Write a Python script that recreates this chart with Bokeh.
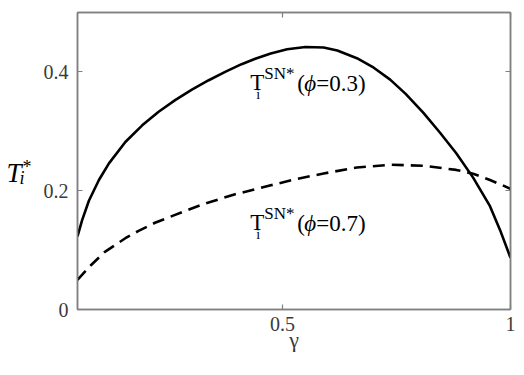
from bokeh.plotting import figure
from bokeh.models import Range1d, FixedTicker, LinearAxis, Label
from bokeh.layouts import row
from bokeh.core.properties import value
from bokeh.embed import file_html
from bokeh.resources import INLINE

# data
gamma_03 = [0.05, 0.060, 0.075, 0.097, 0.119, 0.155, 0.192, 0.228, 0.265, 0.301, 0.338, 0.374, 0.410,
            0.440, 0.474, 0.510, 0.550, 0.590, 0.620, 0.663, 0.700, 0.736, 0.770, 0.809, 0.845,
            0.881, 0.918, 0.955, 0.977, 1.0]
t_03 = [0.123, 0.150, 0.183, 0.218, 0.246, 0.282, 0.310, 0.333, 0.353, 0.370, 0.386, 0.400, 0.413,
        0.422, 0.431, 0.438, 0.442, 0.441, 0.436, 0.423, 0.407, 0.387, 0.363, 0.331, 0.298,
        0.263, 0.222, 0.174, 0.134, 0.087]

gamma_07 = [0.05, 0.080, 0.110, 0.155, 0.183, 0.220, 0.260, 0.328, 0.396, 0.474, 0.532, 0.590,
            0.663, 0.736, 0.809, 0.881, 0.918, 0.955, 0.983, 1.0]
t_07 = [0.050, 0.075, 0.097, 0.120, 0.132, 0.146, 0.158, 0.178, 0.194, 0.209, 0.220, 0.229,
        0.239, 0.2437, 0.242, 0.235, 0.2286, 0.218, 0.209, 0.203]

x_ticks = [0.5, 1.0]
x_tick_labels = ["0.5", "1"]
y_ticks = [0.0, 0.2, 0.4]
y_tick_labels = ["0", "0.2", "0.4"]

SERIF = "Liberation Serif"
AX_COL = "#808080"
LBL_COL = "#3a3a3a"
H = 354

p = figure(frame_width=433, frame_height=297,
           min_border_left=35, min_border_top=12, min_border_right=6, min_border_bottom=45,
           x_range=Range1d(0.05, 1.0), y_range=Range1d(0.0, 0.5),
           output_backend="svg", toolbar_location=None,
           x_axis_label="γ")
p.grid.visible = False
p.outline_line_color = AX_COL
p.outline_line_width = 1.5

p.line(gamma_03, t_03, line_color="black", line_width=2.6)
p.line(gamma_07, t_07, line_color="black", line_width=2.6, line_dash="12 7")

def style_axis(ax, ticks, labels, show_labels=True):
    ax.ticker = FixedTicker(ticks=ticks)
    ax.major_label_overrides = {t: l for t, l in zip(ticks, labels)}
    ax.minor_tick_line_color = None
    ax.major_tick_in = 5
    ax.major_tick_out = 0
    ax.major_tick_line_color = AX_COL
    ax.major_tick_line_width = 1.2
    ax.axis_line_color = AX_COL
    ax.axis_line_width = 1.5
    ax.major_label_text_font = SERIF
    ax.major_label_text_font_size = "20px"
    ax.major_label_text_color = LBL_COL
    if not show_labels:
        ax.major_label_text_font_size = "0px"
        ax.major_label_text_color = None

style_axis(p.xaxis[0], x_ticks, x_tick_labels)
style_axis(p.yaxis[0], y_ticks, y_tick_labels)
p.xaxis[0].major_label_standoff = 7
p.yaxis[0].major_label_standoff = 9
p.xaxis[0].axis_label_text_font = SERIF
p.xaxis[0].axis_label_text_font_style = "normal"
p.xaxis[0].axis_label_text_font_size = "22px"
p.xaxis[0].axis_label_text_color = LBL_COL
p.xaxis[0].axis_label_standoff = -7

top = LinearAxis()
style_axis(top, x_ticks, x_tick_labels, show_labels=False)
p.add_layout(top, "above")
right = LinearAxis()
style_axis(right, y_ticks, y_tick_labels, show_labels=False)
p.add_layout(right, "right")

def piece(x, y, text, dx=0, dy=0, size="23px", style="normal"):
    p.add_layout(Label(x=x, y=y, text=text, x_offset=dx, y_offset=dy,
                       text_font=SERIF, text_font_size=size, text_font_style=style,
                       text_color="black", text_baseline="alphabetic", text_align="left"))

def curve_label(x, y, phi_text):
    piece(x, y, "T")
    piece(x, y, "i", dx=6, dy=-12, size="14px")
    piece(x, y, "SN*", dx=14, dy=9, size="17px")
    piece(x, y, "(", dx=47, dy=-1)
    piece(x, y, "ϕ", dx=54, dy=-1, style="italic")
    piece(x, y, "=" + phi_text + ")", dx=66, dy=-1)

curve_label(0.429, 0.382, "0.3")
curve_label(0.429, 0.146, "0.7")

# narrow left panel holding the y-axis title T_i^*
lf = figure(width=40, height=H, x_range=Range1d(0, 40), y_range=Range1d(H, 0),
            output_backend="svg", toolbar_location=None,
            min_border=0, outline_line_color=None)
lf.axis.visible = False
lf.grid.visible = False
lf.text(x=[6], y=[191], text=["T"], text_font=value(SERIF), text_font_size="27px",
        text_font_style="italic", text_baseline="alphabetic", text_color="black")
lf.text(x=[19], y=[197], text=["i"], text_font=value(SERIF), text_font_size="18px",
        text_font_style="italic", text_baseline="alphabetic", text_color="black")
lf.text(x=[22], y=[184], text=["*"], text_font=value(SERIF), text_font_size="18px",
        text_baseline="alphabetic", text_color="black")

layout = row(lf, p)
open("out.html", "w").write(file_html(layout, INLINE))
